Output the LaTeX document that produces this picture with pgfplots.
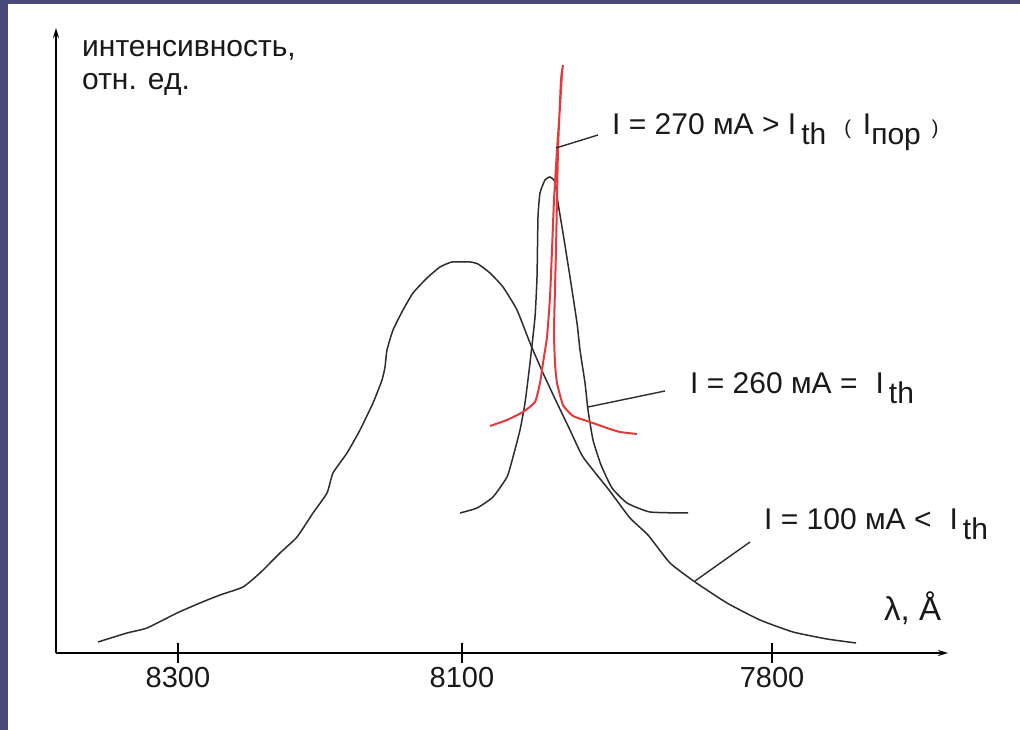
\documentclass[border=0pt]{standalone}
\usepackage{pgfplots}
\pgfplotsset{compat=1.18}
\usepackage{fontspec}
\setmainfont{Liberation Sans}
\usetikzlibrary{arrows.meta}
\definecolor{strip}{RGB}{72,72,122}
\definecolor{curve}{RGB}{45,45,45}
\definecolor{redc}{RGB}{228,58,58}
\definecolor{txt}{RGB}{25,25,25}
\newcommand{\fs}{\fontsize{30}{35}\selectfont}
\newcommand{\ts}{\fontsize{29}{34}\selectfont}
\newcommand{\sub}[1]{\raisebox{-10pt}{#1}}
\newcommand{\paren}[1]{{\fontsize{20}{21}\selectfont #1}}
\begin{document}
\begin{tikzpicture}[font=\fs]
\useasboundingbox (0,0) rectangle (1020pt,730pt);
\fill[white] (0,0) rectangle (1020pt,730pt);
\fill[strip] (0,0) rectangle (8pt,730pt);
\fill[strip] (0,726pt) rectangle (1020pt,730pt);
\begin{axis}[
  at={(56pt,77pt)}, anchor=south west,
  x=1pt, y=1pt,
  xmin=56, xmax=948, ymin=77, ymax=702,
  enlargelimits=false, clip=false,
  axis lines=left,
  axis line style={line width=1.8pt, black, -{Stealth[length=10pt,width=6pt]}},
  xtick={178,462,772}, xticklabels={8300,8100,7800},
  ytick=\empty,
  major tick length=20pt, tick align=center,
  tick style={line width=1.2pt, black},
  xticklabel style={font=\ts, text=txt, anchor=base, yshift=-25pt},
]
% I = 100 mA
\addplot[curve, line width=1.5pt, smooth, tension=0.3] coordinates {
(98,88) (127,97) (147,102) (177,117) (200,127) (220,135) (243,143) (260,157)
(280,177) (297,193) (313,217) (327,237) (333,257) (347,277) (360,300) (373,327)
(382,350) (385,363) (387,380) (393,400) (403,420) (413,437) (427,452) (440,463)
(452,468) (470,468) (478,466) (490,457) (503,443) (517,420) (530,387) (543,357)
(557,327) (570,300) (583,273) (609,240) (630,212) (648,195) (670,167) (695,148)
(727,127) (760,110) (793,98) (827,91) (856,87)
};
% I = 260 mA
\addplot[curve, line width=1.5pt, smooth, tension=0.3] coordinates {
(460,217) (477,222) (493,233) (507,253) (513,273) (520,300) (525,327) (530,367)
(535,413) (537,453) (538,513) (540,537) (545,550) (550,553) (555,548) (558,527)
(563,497) (570,453) (577,407) (580,380) (585,347) (588,320) (593,290) (601,265)
(612,242) (627,227) (650,218) (688,217)
};
% I = 270 mA
\addplot[redc, line width=2pt, smooth, tension=0.3] coordinates {
(490,304) (507,310) (523,318) (535,328) (540,347) (543,367) (547,393) (550,433)
(552,480) (554,530) (557,580) (560,623) (562,657) (563,665) (561,650) (558,580)
(556,480) (554,400) (555,367) (557,347) (563,325) (573,314) (590,308) (607,302)
(620,298) (637,296)
};
% pointers
\draw[curve, line width=1.4pt] (axis cs:598,595) -- (axis cs:556,582);
\draw[curve, line width=1.4pt] (axis cs:665,339) -- (axis cs:588,323);
\draw[curve, line width=1.4pt] (axis cs:750,188) -- (axis cs:695,149);
% texts
\node[anchor=base west, inner sep=0, text=txt] at (axis cs:82,673) {интенсивность,};
\node[anchor=base west, inner sep=0, text=txt] at (axis cs:82,640) {отн. ед.};
\node[anchor=base west, inner sep=0, text=txt] at (axis cs:612,595)
  {I = 270 мА > I\hspace{5pt}\sub{th}\hspace{18pt}\paren{(}\hspace{12pt}I\sub{пор}\hspace{11pt}\paren{)}};
\node[anchor=base west, inner sep=0, text=txt] at (axis cs:690,336)
  {I = 260 мА =\hspace{18pt}I\hspace{5pt}\sub{th}};
\node[anchor=base west, inner sep=0, text=txt] at (axis cs:764,200)
  {I = 100 мА <\hspace{18pt}I\hspace{5pt}\sub{th}};
\node[anchor=base west, inner sep=0, text=txt, font=\fontsize{33}{38}\selectfont] at (axis cs:884,109) {λ, Å};
\end{axis}
\end{tikzpicture}
\end{document}
